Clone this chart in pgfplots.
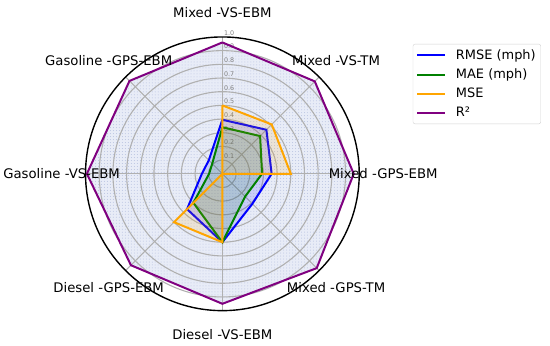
\documentclass[border=0pt]{standalone}
\usepackage{fontspec}
\setmainfont{DejaVu Sans}
\usepackage{pgfplots}
\pgfplotsset{compat=1.18}
\usetikzlibrary{patterns}
\definecolor{mblue}{RGB}{0,0,255}
\definecolor{mgreen}{RGB}{0,128,0}
\definecolor{morange}{RGB}{255,165,0}
\definecolor{mpurple}{RGB}{128,0,128}
\definecolor{bgfill}{RGB}{232,236,247}
\definecolor{dotc}{RGB}{185,195,225}
\definecolor{gridc}{RGB}{176,176,176}
\newcommand\lab{\fontsize{13.3}{16}\selectfont}
\begin{document}
\begin{tikzpicture}
\begin{axis}[
  scale only axis, width=550bp, height=346bp,
  xmin=-1.6204, xmax=2.3942, ymin=-1.2555, ymax=1.2701,
  hide axis, clip=false,
  legend style={at={(rel axis cs:0.7503,0.8728)}, anchor=north west,
    draw=gray!35, rounded corners=2bp, font=\fontsize{13}{15.6}\selectfont, row sep=4bp,
    inner xsep=3bp, inner ysep=3.5bp},
  legend cell align=left,
  legend image code/.code={\draw[#1, fill=none] (0bp,0bp) -- (28bp,0bp); \path (36bp,0bp);},
]
\path (rel axis cs:0,0) rectangle (rel axis cs:1,1);
% R^2 background fill
\addplot[draw=none, fill=bgfill, postaction={pattern=dots, pattern color=dotc}, data cs=polar, forget plot]
  coordinates {(90,0.96) (45,0.955) (0,0.96) (-45,0.975) (-90,0.95) (-135,0.945) (-180,0.99) (-225,0.96) (90,0.96)};
% grid
\pgfplotsinvokeforeach{0.1,0.2,0.3,0.4,0.5,0.6,0.7,0.8,0.9}{
  \draw[gridc, line width=1.1bp] (axis cs:0,0) circle [radius=#1*137bp];
}
\pgfplotsinvokeforeach{0,45,90,135,180,225,270,315}{
  \draw[gridc, line width=1.1bp] (axis cs:0,0) -- ++(#1:137bp);
}
\draw[black, line width=1.4bp] (axis cs:0,0) circle [radius=137bp];
\pgfplotsinvokeforeach{0.1,0.2,0.3,0.4,0.5,0.6,0.7,0.8,0.9,1.0}{
  \node[anchor=west, text=gray, font=\fontsize{6.4}{7}\selectfont, inner sep=0pt, xshift=1.5bp, yshift=4bp] at (axis cs:0,#1) {#1};
}
% series
\addplot[mblue, line width=2bp, fill=mblue, fill opacity=0.13, draw opacity=1, data cs=polar]
  coordinates {(90,0.395) (45,0.455) (0,0.36) (-45,0.31) (-90,0.50) (-135,0.365) (-180,0.15) (-225,0.14) (90,0.395)};
\addlegendentry{RMSE (mph)}
\addplot[mgreen, line width=2bp, fill=mgreen, fill opacity=0.13, draw opacity=1, data cs=polar]
  coordinates {(90,0.34) (45,0.39) (0,0.29) (-45,0.235) (-90,0.50) (-135,0.30) (-180,0.097) (-225,0.105) (90,0.34)};
\addlegendentry{MAE (mph)}
\addplot[morange, line width=2bp, fill=morange, fill opacity=0.13, draw opacity=1, data cs=polar]
  coordinates {(90,0.50) (45,0.51) (0,0.50) (-45,0.0) (-90,0.50) (-135,0.50) (-180,0.0) (-225,0.0) (90,0.50)};
\addlegendentry{MSE}
\addplot[mpurple, line width=2bp, data cs=polar]
  coordinates {(90,0.96) (45,0.955) (0,0.96) (-45,0.975) (-90,0.95) (-135,0.945) (-180,0.99) (-225,0.96) (90,0.96)};
\addlegendentry{R²}
% category labels
\node[font=\lab] at (axis cs:0,1.175) {Mixed -VS-EBM};
\node[font=\lab] at (axis cs:0.8309,0.8309) {Mixed -VS-TM};
\node[font=\lab] at (axis cs:1.175,0) {Mixed -GPS-EBM};
\node[font=\lab] at (axis cs:0.8309,-0.8309) {Mixed -GPS-TM};
\node[font=\lab] at (axis cs:0,-1.175) {Diesel -VS-EBM};
\node[font=\lab] at (axis cs:-0.8309,-0.8309) {Diesel -GPS-EBM};
\node[font=\lab] at (axis cs:-1.175,0) {Gasoline -VS-EBM};
\node[font=\lab] at (axis cs:-0.8309,0.8309) {Gasoline -GPS-EBM};
\end{axis}
\end{tikzpicture}
\end{document}
